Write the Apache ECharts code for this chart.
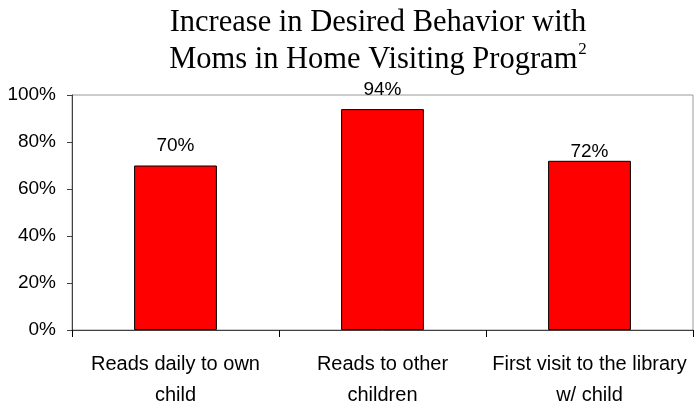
<!DOCTYPE html>
<html>
<head>
<meta charset="utf-8">
<script src="https://cdn.jsdelivr.net/npm/echarts@6/dist/echarts.min.js"></script>
<style>
  html, body { margin: 0; padding: 0; background: #fff; }
  #chart { width: 694px; height: 406px; }
</style>
</head>
<body>
<div id="chart"></div>
<script>
// data
var categories = ['Reads daily to own\nchild', 'Reads to other\nchildren', 'First visit to the library\nw/ child'];
var values = [70, 94, 72];
var yTicks = [0, 20, 40, 60, 80, 100];

var chart = echarts.init(document.getElementById('chart'));

var option = {
    backgroundColor: '#fff',
    animation: false,
    title: {
        text: '{t|Increase in Desired Behavior with}\n{t|Moms in Home Visiting Program}{s|2}',
        left: 378,
        top: 4,
        padding: 0,
        textAlign: 'center',
        textStyle: {
            fontWeight: 'normal',
            rich: {
                t: { fontFamily: 'Liberation Serif', fontSize: 30.5, fontWeight: 'normal', lineHeight: 37, color: '#000' },
                s: { fontFamily: 'Liberation Serif', fontSize: 17, fontWeight: 'normal', lineHeight: 35, color: '#000', verticalAlign: 'top', padding: [0, 0, 0, 1] }
            }
        }
    },
    grid: {
        left: 72,
        right: 1,
        top: 95,
        bottom: 76,
        outerBoundsMode: 'none',
        containLabel: false,
        show: true,
        borderColor: '#9a9a9a',
        borderWidth: 1
    },
    xAxis: {
        type: 'category',
        data: categories,
        axisLine: { lineStyle: { color: '#404040', width: 1 } },
        axisTick: { show: true, length: 7, lineStyle: { color: '#000' } },
        axisLabel: {
            color: '#000',
            fontFamily: 'Liberation Sans',
            fontSize: 20,
            lineHeight: 31,
            margin: 19,
            interval: 0
        }
    },
    yAxis: {
        type: 'value',
        min: yTicks[0],
        max: yTicks[yTicks.length - 1],
        interval: yTicks[1] - yTicks[0],
        axisLine: { show: true, lineStyle: { color: '#404040', width: 1 } },
        axisTick: { show: true, length: 5, lineStyle: { color: '#404040' } },
        splitLine: { show: false },
        axisLabel: {
            color: '#000',
            fontFamily: 'Liberation Sans',
            fontSize: 19,
            margin: 16,
            formatter: '{value}%'
        }
    },
    series: [{
        type: 'bar',
        data: values.map(function (v, i) {
            // the last label sits right on its bar in the reference
            return i === 2 ? { value: v, label: { distance: 0 } } : v;
        }),
        barCategoryGap: '60%',
        itemStyle: { color: '#ff0000', borderColor: '#000', borderWidth: 1 },
        label: {
            show: true,
            position: 'top',
            distance: 10,
            color: '#000',
            fontFamily: 'Liberation Sans',
            fontSize: 19,
            formatter: '{c}%'
        }
    }]
};

chart.setOption(option);
</script>
</body>
</html>
